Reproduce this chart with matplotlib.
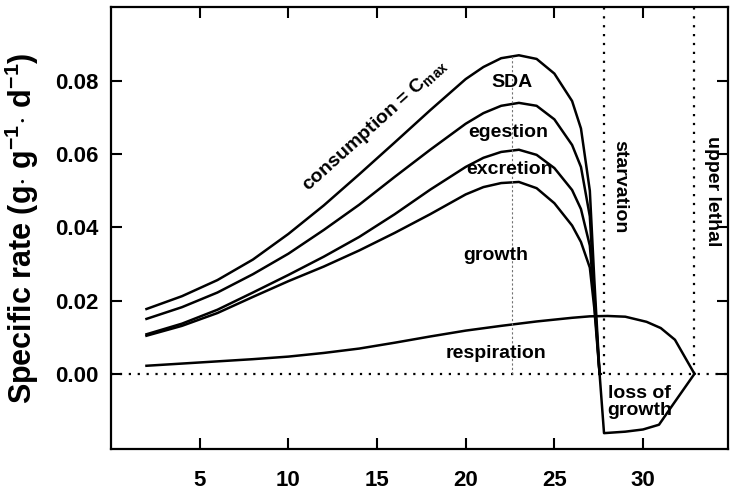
import matplotlib
matplotlib.use("Agg")
import matplotlib.pyplot as plt
import numpy as np

plt.rcParams['font.family'] = ['Liberation Sans', 'DejaVu Sans']
plt.rcParams['font.weight'] = 'bold'
plt.rcParams['mathtext.fontset'] = 'custom'
plt.rcParams['mathtext.rm'] = 'Liberation Sans:bold'
plt.rcParams['mathtext.bf'] = 'Liberation Sans:bold'
plt.rcParams['mathtext.it'] = 'Liberation Sans:bold'
plt.rcParams['mathtext.default'] = 'bf'

# ---- data ----
temp = [2, 4, 6, 8, 10, 12, 14, 16, 18, 20, 21, 22, 23, 24, 25, 26, 26.5, 27, 27.25, 27.55]
consumption = [.0177, .0212, .0256, .0312, .0382, .0460, .0545, .0632, .0720, .0805,
               .0838, .0862, .0870, .0860, .0820, .0745, .0670, .0500, .0260, 0.0]
minus_sda = [.0150, .0182, .0222, .0272, .0328, .0393, .0462, .0538, .0612, .0683,
             .0712, .0732, .0740, .0732, .0695, .0625, .0565, .0430, .0220, 0.0]
minus_egestion = [.0108, .0137, .0175, .0222, .0270, .0320, .0374, .0436, .0503, .0565,
                  .0590, .0606, .0612, .0598, .0562, .0502, .0450, .0350, .0200, 0.0]
growth_top = [.0104, .0131, .0166, .0210, .0253, .0293, .0337, .0385, .0436, .0490,
              .0510, .0521, .0524, .0507, .0466, .0405, .0360, .0290, .0180, 0.0]
loss_temp = [27.8, 29, 30, 30.9, 31.6, 32.9]
loss_vals = [-.0162, -.0158, -.0152, -.0139, -.0090, 0.0]

resp_temp = [2, 4, 6, 8, 10, 12, 14, 16, 18, 20, 22, 24, 26, 27, 28, 29, 30.2, 31, 31.8, 32.9]
respiration = [.0022, .0028, .0034, .0040, .0047, .0057, .0069, .0085, .0102, .0118,
               .0131, .0143, .0153, .0157, .0158, .0156, .0142, .0125, .0093, 0.0]

opt_temp = 22.6
starvation_temp = 27.8
lethal_temp = 32.9

xticks = [5, 10, 15, 20, 25, 30]
yticks = [0.00, 0.02, 0.04, 0.06, 0.08]
ytick_labels = ['0.00', '0.02', '0.04', '0.06', '0.08']

# ---- figure ----
fig = plt.figure(figsize=(7.4, 4.96), dpi=100)
ax = fig.add_axes([0.150, 0.095, 0.834, 0.891])

lw = 1.8
ax.plot(temp, consumption, color='black', lw=lw, solid_joinstyle='round')
ax.plot(temp, minus_sda, color='black', lw=lw, solid_joinstyle='round')
ax.plot(temp, minus_egestion, color='black', lw=lw, solid_joinstyle='round')
ax.plot(temp + loss_temp, growth_top + loss_vals, color='black', lw=lw, solid_joinstyle='round')
ax.plot(resp_temp, respiration, color='black', lw=lw, solid_joinstyle='round')

# reference lines
ax.axhline(0, color='black', lw=1.6, linestyle=(0, (1, 3)))
ax.vlines(opt_temp, 0, max(consumption), color='0.45', lw=0.8, linestyle=(0, (2, 2)))
ax.vlines([starvation_temp, lethal_temp], 0, 0.10, color='black', lw=1.6, linestyle=(0, (1, 3)))

ax.set_xlim(0, 34.8)
ax.set_ylim(-0.0205, 0.1002)
ax.set_xticks(xticks)
ax.set_yticks(yticks)
ax.set_yticklabels(ytick_labels)
ax.tick_params(direction='in', length=8, width=1.5, top=True, right=True,
               labelsize=16, pad=9)
ax.tick_params(axis='x', pad=15)
for lab in ax.get_xticklabels() + ax.get_yticklabels():
    lab.set_fontweight('bold')
for s in ax.spines.values():
    s.set_linewidth(1.6)

ax.set_ylabel(r'Specific rate (g$\cdot$ g$^{-1}$$\cdot$ d$^{-1}$)', fontsize=22,
              fontweight='bold', labelpad=10)

fs = 14
ax.text(14.9, 0.0680, r'consumption = C$_{max}$', rotation=42, fontsize=fs,
        fontweight='bold', ha='center', va='center')
ax.text(22.6, 0.0795, 'SDA', fontsize=fs, fontweight='bold', ha='center', va='center')
ax.text(22.4, 0.0658, 'egestion', fontsize=fs, fontweight='bold', ha='center', va='center')
ax.text(22.5, 0.0557, 'excretion', fontsize=fs, fontweight='bold', ha='center', va='center')
ax.text(21.7, 0.0322, 'growth', fontsize=fs, fontweight='bold', ha='center', va='center')
ax.text(21.7, 0.0055, 'respiration', fontsize=fs, fontweight='bold', ha='center', va='center')
ax.text(28.0, -0.0077, 'loss of\ngrowth', fontsize=fs, fontweight='bold', ha='left',
        va='center', linespacing=0.95)
ax.text(28.7, 0.051, 'starvation', rotation=270, fontsize=fs, fontweight='bold',
        ha='center', va='center')
ax.text(33.9, 0.050, 'upper lethal', rotation=270, fontsize=fs, fontweight='bold',
        ha='center', va='center')

fig.savefig('out.png', dpi=100)
